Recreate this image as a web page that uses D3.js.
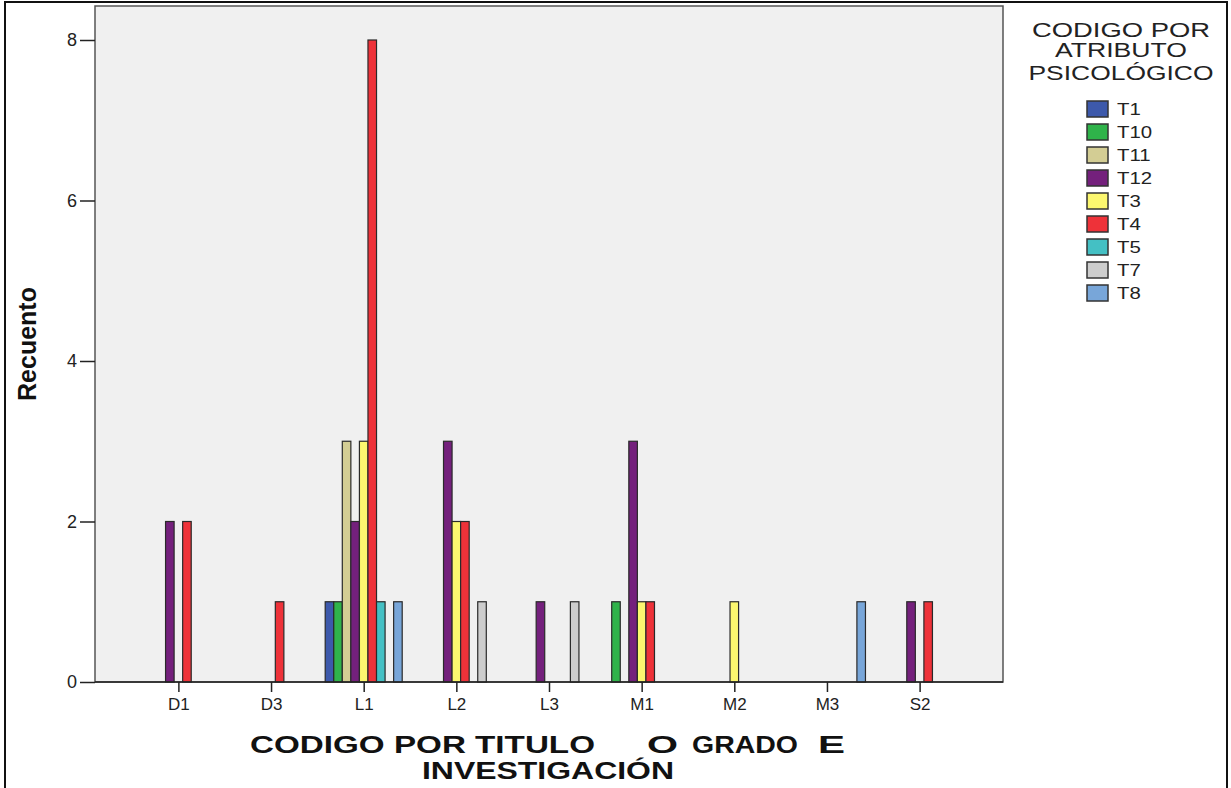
<!DOCTYPE html>
<html>
<head>
<meta charset="utf-8">
<script src="https://cdn.jsdelivr.net/npm/d3@7"></script>
<style>
  body { margin: 0; background: #fff; }
  svg { display: block; }
</style>
</head>
<body>
<div class="chart"></div>
<script>
// categories (x axis) and series (legend)
const categories = ['D1', 'D3', 'L1', 'L2', 'L3', 'M1', 'M2', 'M3', 'S2']
const seriesNames = ['T1', 'T10', 'T11', 'T12', 'T3', 'T4', 'T5', 'T7', 'T8']
const seriesColors = ['#3d59ab', '#2fb34a', '#d3cd94', '#74207c', '#fcf76f', '#ee3239', '#44c0c4', '#cdcdcd', '#78a6d9']

// counts per series, one value per category (0 = no bar)
const T1  = [0, 0, 1, 0, 0, 0, 0, 0, 0]
const T10 = [0, 0, 1, 0, 0, 1, 0, 0, 0]
const T11 = [0, 0, 3, 0, 0, 0, 0, 0, 0]
const T12 = [2, 0, 2, 3, 1, 3, 0, 0, 1]
const T3  = [0, 0, 3, 2, 0, 1, 1, 0, 0]
const T4  = [2, 1, 8, 2, 0, 1, 0, 0, 1]
const T5  = [0, 0, 1, 0, 0, 0, 0, 0, 0]
const T7  = [0, 0, 0, 1, 1, 0, 0, 0, 0]
const T8  = [0, 0, 1, 0, 0, 0, 0, 1, 0]
const seriesValues = [T1, T10, T11, T12, T3, T4, T5, T7, T8]

const yTicks = [0, 2, 4, 6, 8]
const legendTitle = ['CODIGO POR', 'ATRIBUTO', 'PSICOLÓGICO']
const yLabel = 'Recuento'

const width = 1231
const height = 788
const plot = {left: 95, top: 6, right: 1003, bottom: 682}

const svg = d3.select('.chart').append('svg')
  .attr('width', width)
  .attr('height', height)
  .attr('font-family', 'Liberation Sans, Arial, sans-serif')

// outer frame
svg.append('rect')
  .attr('x', 5).attr('y', 2)
  .attr('width', 1222).attr('height', 800)
  .attr('fill', 'none').attr('stroke', '#111').attr('stroke-width', 2)

// plot background
svg.append('rect')
  .attr('x', plot.left).attr('y', plot.top)
  .attr('width', plot.right - plot.left).attr('height', plot.bottom - plot.top)
  .attr('fill', '#f0f0f0').attr('stroke', '#555').attr('stroke-width', 1.5)

const x0 = d3.scalePoint()
  .domain(categories)
  .range([plot.left, plot.right])
  .padding(0.9)

const clusterW = 77
const x1 = d3.scaleBand()
  .domain(seriesNames)
  .range([-clusterW / 2, clusterW / 2])

const y = d3.scaleLinear()
  .domain([0, 8])
  .range([plot.bottom, 40])

// bars
const bars = []
seriesNames.forEach((s, si) => {
  categories.forEach((c, ci) => {
    const v = seriesValues[si][ci]
    if (v > 0) bars.push({series: s, cat: c, value: v, color: seriesColors[si]})
  })
})

svg.append('g')
  .selectAll('rect')
  .data(bars)
  .join('rect')
  .attr('x', d => x0(d.cat) + x1(d.series))
  .attr('y', d => y(d.value))
  .attr('width', x1.bandwidth())
  .attr('height', d => y(0) - y(d.value))
  .attr('fill', d => d.color)
  .attr('stroke', '#2a2a2a')
  .attr('stroke-width', 1.2)

// y axis
const yAxis = svg.append('g')
  .attr('transform', `translate(${plot.left},0)`)
  .call(d3.axisLeft(y).tickValues(yTicks).tickSize(15).tickPadding(3).tickFormat(d3.format('d')))
yAxis.select('.domain').remove()
yAxis.selectAll('.tick line').attr('stroke', '#222').attr('stroke-width', 1.5)
yAxis.selectAll('.tick text')
  .attr('font-size', 18).attr('fill', '#222')
  .attr('font-family', 'Liberation Sans, Arial, sans-serif')

// x axis
const xAxis = svg.append('g')
  .attr('transform', `translate(0,${plot.bottom})`)
  .call(d3.axisBottom(x0).tickSize(10).tickPadding(6))
xAxis.select('.domain').attr('d', `M${plot.left},0H${plot.right}`).attr('stroke', '#222').attr('stroke-width', 1.5)
xAxis.selectAll('.tick line').attr('stroke', '#222').attr('stroke-width', 1.5)
xAxis.selectAll('.tick text')
  .attr('font-size', 17).attr('fill', '#222')
  .attr('font-family', 'Liberation Sans, Arial, sans-serif')

// y label
svg.append('text')
  .attr('transform', 'translate(36,344) rotate(-90)')
  .attr('text-anchor', 'middle')
  .attr('font-size', 25)
  .attr('font-weight', 'bold')
  .attr('fill', '#111')
  .text(yLabel)

// x label (two lines, wide spaced pieces)
const xLabelPieces = [
  {t: 'CODIGO POR TITULO', x: 250, len: 345, y: 753},
  {t: 'O', x: 647, len: 31, y: 753},
  {t: 'GRADO', x: 692, len: 106, y: 753},
  {t: 'E', x: 818, len: 27, y: 753},
  {t: 'INVESTIGACIÓN', x: 422, len: 252, y: 779}
]
svg.append('g')
  .selectAll('text')
  .data(xLabelPieces)
  .join('text')
  .attr('x', d => d.x)
  .attr('y', d => d.y)
  .attr('textLength', d => d.len)
  .attr('lengthAdjust', 'spacingAndGlyphs')
  .attr('font-size', 23)
  .attr('font-weight', 'bold')
  .attr('fill', '#111')
  .text(d => d.t)

// legend title
const titleLines = [
  {t: legendTitle[0], y: 37, len: 178},
  {t: legendTitle[1], y: 57, len: 132},
  {t: legendTitle[2], y: 80, len: 185}
]
svg.append('g')
  .selectAll('text')
  .data(titleLines)
  .join('text')
  .attr('x', d => 1121 - d.len / 2)
  .attr('y', d => d.y)
  .attr('textLength', d => d.len)
  .attr('lengthAdjust', 'spacingAndGlyphs')
  .attr('font-size', 20)
  .attr('fill', '#222')
  .text(d => d.t)

// legend items
const ly = d3.scalePoint().domain(seriesNames).range([109, 293])
const legend = svg.append('g')
  .selectAll('g')
  .data(seriesNames)
  .join('g')
  .attr('transform', d => `translate(1087,${ly(d)})`)
legend.append('rect')
  .attr('x', 0).attr('y', -8)
  .attr('width', 21).attr('height', 16)
  .attr('fill', (d, i) => seriesColors[i])
  .attr('stroke', '#333').attr('stroke-width', 1.5)
legend.append('text')
  .attr('transform', 'translate(30,6) scale(1.2,1)')
  .attr('font-size', 17)
  .attr('fill', '#222')
  .text(d => d)
</script>
</body>
</html>
